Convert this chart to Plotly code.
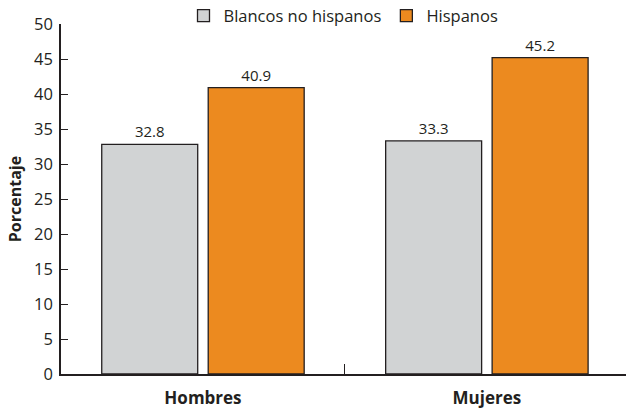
import plotly.graph_objects as go

categories = ["Hombres", "Mujeres"]
blancos = [32.8, 33.3]
hispanos = [40.9, 45.2]
series_names = ["Blancos no hispanos", "Hispanos"]
y_ticks = [0, 5, 10, 15, 20, 25, 30, 35, 40, 45, 50]

FONT = "Open Sans"
TEXT = "#231f20"

fig = go.Figure()
fig.add_trace(go.Bar(
    x=categories, y=blancos, name=series_names[0],
    marker=dict(color="#d1d3d4", line=dict(color="#231f20", width=1.3)),
    text=[f"{v:.1f}" for v in blancos], textposition="outside",
    textfont=dict(size=15, color=TEXT, family=FONT), cliponaxis=False,
))
fig.add_trace(go.Bar(
    x=categories, y=hispanos, name=series_names[1],
    marker=dict(color="#ec8a1f", line=dict(color="#231f20", width=1.3)),
    text=[f"{v:.1f}" for v in hispanos], textposition="outside",
    textfont=dict(size=15, color=TEXT, family=FONT), cliponaxis=False,
))

fig.update_layout(
    width=626, height=409,
    margin=dict(l=61, r=0, t=24, b=35, autoexpand=False),
    paper_bgcolor="white", plot_bgcolor="white",
    barmode="group", bargap=0.25, bargroupgap=0.0986,
    font=dict(family=FONT, color=TEXT, size=16),
    showlegend=True,
    legend=dict(orientation="h", x=0.5, xanchor="center", y=1.023, yanchor="middle",
                font=dict(size=16.5, family=FONT, color=TEXT),
                itemwidth=30, traceorder="normal", bgcolor="rgba(0,0,0,0)"),
    xaxis=dict(
        type="category", range=[-0.5, 1.49],
        showline=True, linecolor="#231f20", linewidth=1.5,
        ticks="inside", tickson="boundaries", ticklen=10, tickcolor="#231f20", tickwidth=1.3,
        tickfont=dict(size=17, family=FONT, color=TEXT, weight="bold"),
        ticklabelstandoff=8,
        showgrid=False, zeroline=False,
    ),
    yaxis=dict(
        range=[0, 50], tickvals=y_ticks,
        showline=True, linecolor="#231f20", linewidth=1.5,
        ticks="inside", ticklen=7, tickcolor="#231f20", tickwidth=1.3,
        tickfont=dict(size=16.5, family=FONT, color=TEXT),
        ticklabelstandoff=3,
        showgrid=False, zeroline=False,
        title=dict(text="Porcentaje", font=dict(size=16, family=FONT, color=TEXT, weight="bold"), standoff=8),
    ),
)

fig.write_html("out.html")
